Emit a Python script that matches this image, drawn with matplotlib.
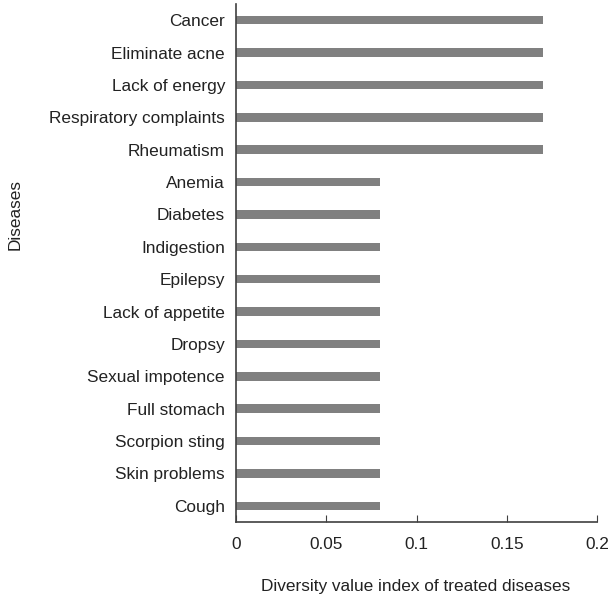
import matplotlib
matplotlib.use("Agg")
import matplotlib.pyplot as plt

diseases = ["Cancer", "Eliminate acne", "Lack of energy", "Respiratory complaints",
            "Rheumatism", "Anemia", "Diabetes", "Indigestion", "Epilepsy",
            "Lack of appetite", "Dropsy", "Sexual impotence", "Full stomach",
            "Scorpion sting", "Skin problems", "Cough"]
values = [0.17, 0.17, 0.17, 0.17, 0.17, 0.08, 0.08, 0.08, 0.08, 0.08,
          0.08, 0.08, 0.08, 0.08, 0.08, 0.08]
xticks = [0, 0.05, 0.1, 0.15, 0.2]
xtick_labels = ["0", "0.05", "0.1", "0.15", "0.2"]

plt.rcParams['font.family'] = ['Liberation Sans', 'DejaVu Sans']
FS = 12.4

fig = plt.figure(figsize=(6.09, 5.97), dpi=100)
ax = fig.add_axes([236/609, 75/597, 361/609, 518/597])

pos = list(range(len(diseases)))[::-1]
ax.barh(pos, values, height=0.26, color='#808080')
ax.set_ylim(-0.5, len(diseases) - 0.5)
ax.set_xlim(0, 0.2)
ax.set_yticks(pos)
ax.set_yticklabels(diseases, fontsize=FS, color='#222222')
ax.set_xticks(xticks)
ax.set_xticklabels(xtick_labels, fontsize=FS, color='#222222')
ax.tick_params(axis='y', length=0, pad=8)
ax.tick_params(axis='x', direction='in', length=5, color='#404040', pad=11)

for s in ['top', 'right']:
    ax.spines[s].set_visible(False)
for s in ['left', 'bottom']:
    ax.spines[s].set_color('#404040')
    ax.spines[s].set_linewidth(1.2)

fig.text(416/609, (597-586)/597, "Diversity value index of treated diseases", fontsize=FS,
         color='#222222', ha='center', va='center')
fig.text(15/609, (597-215)/597, "Diseases", rotation=90, fontsize=FS, color='#222222',
         ha='center', va='center')

fig.savefig("out.png", dpi=100)
